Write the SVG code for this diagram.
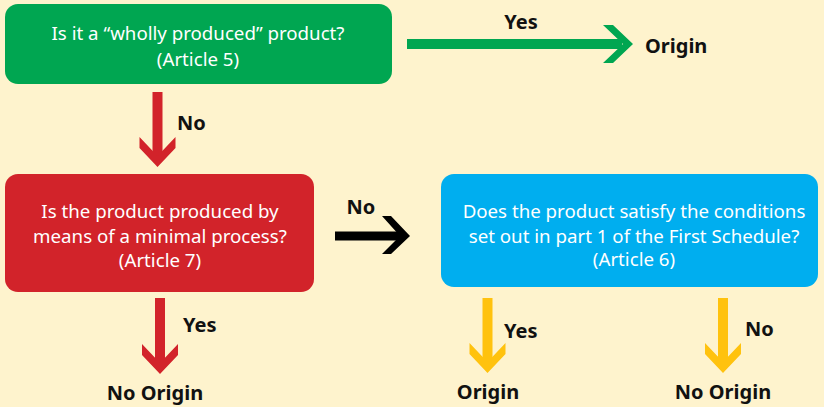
<svg xmlns="http://www.w3.org/2000/svg" width="824" height="407" viewBox="0 0 824 407">
<style>
.q{font-family:"Noto Sans","Open Sans",sans-serif;font-size:18.7px;fill:#ffffff;text-anchor:middle}
.l{font-family:"Noto Sans","Open Sans",sans-serif;font-size:20px;font-weight:bold;fill:#111111}
.c{text-anchor:middle}
</style>
<rect width="824" height="407" fill="#fef3cd"/>
<g id="n1">
<rect x="5" y="4" width="387" height="80" rx="13" fill="#00a651"/>
<text class="q" x="198" y="40">Is it a “wholly produced” product?</text>
<text class="q" x="198" y="66">(Article 5)</text>
</g>
<g id="n2">
<rect x="5" y="174" width="309" height="118" rx="13" fill="#d2232a"/>
<text class="q" x="160" y="218">Is the product produced by</text>
<text class="q" x="160" y="243">means of a minimal process?</text>
<text class="q" x="160" y="267">(Article 7)</text>
</g>
<g id="n3">
<rect x="441" y="174" width="377" height="113" rx="13" fill="#00aeef"/>
<text class="q" x="634" y="218">Does the product satisfy the conditions</text>
<text class="q" x="634" y="243">set out in part 1 of the First Schedule?</text>
<text class="q" x="634" y="266">(Article 6)</text>
</g>
<g id="t1"><text class="l" x="645" y="53">Origin</text></g>
<g id="t2"><text class="l c" x="155" y="400">No Origin</text></g>
<g id="t3"><text class="l c" x="488" y="399">Origin</text></g>
<g id="t4"><text class="l c" x="723" y="399">No Origin</text></g>
<g id="connectors">
<g fill="#00a651">
<rect x="407" y="39" width="215" height="10"/>
<polygon points="603,25 613,25 633,44 613,63 603,63 623,44"/>
</g>
<text class="l c" x="521" y="29">Yes</text>
<g fill="#d2232a">
<rect x="152.5" y="92" width="10" height="65"/>
<polygon points="139.5,137 139.5,148 157.5,167 175.5,148 175.5,137 157.5,156"/>
</g>
<text class="l" x="177" y="130">No</text>
<g fill="#000000">
<rect x="335" y="231.5" width="65" height="9"/>
<polygon points="382,216 391,216 410,236 391,254 382,254 400,236"/>
</g>
<text class="l c" x="361" y="214">No</text>
<g fill="#d2232a">
<rect x="155" y="298" width="10" height="66"/>
<polygon points="142,344 142,355 160,374 178,355 178,344 160,363"/>
</g>
<text class="l" x="183" y="332">Yes</text>
<g fill="#ffc20e">
<rect x="482.5" y="298" width="10" height="66"/>
<polygon points="469.5,343 469.5,354 487.5,373 505.5,354 505.5,343 487.5,362"/>
</g>
<text class="l" x="504" y="338">Yes</text>
<g fill="#ffc20e">
<rect x="718" y="298" width="10" height="66"/>
<polygon points="705,343 705,354 723,373 741,354 741,343 723,362"/>
</g>
<text class="l" x="745" y="336">No</text>
</g>
</svg>
